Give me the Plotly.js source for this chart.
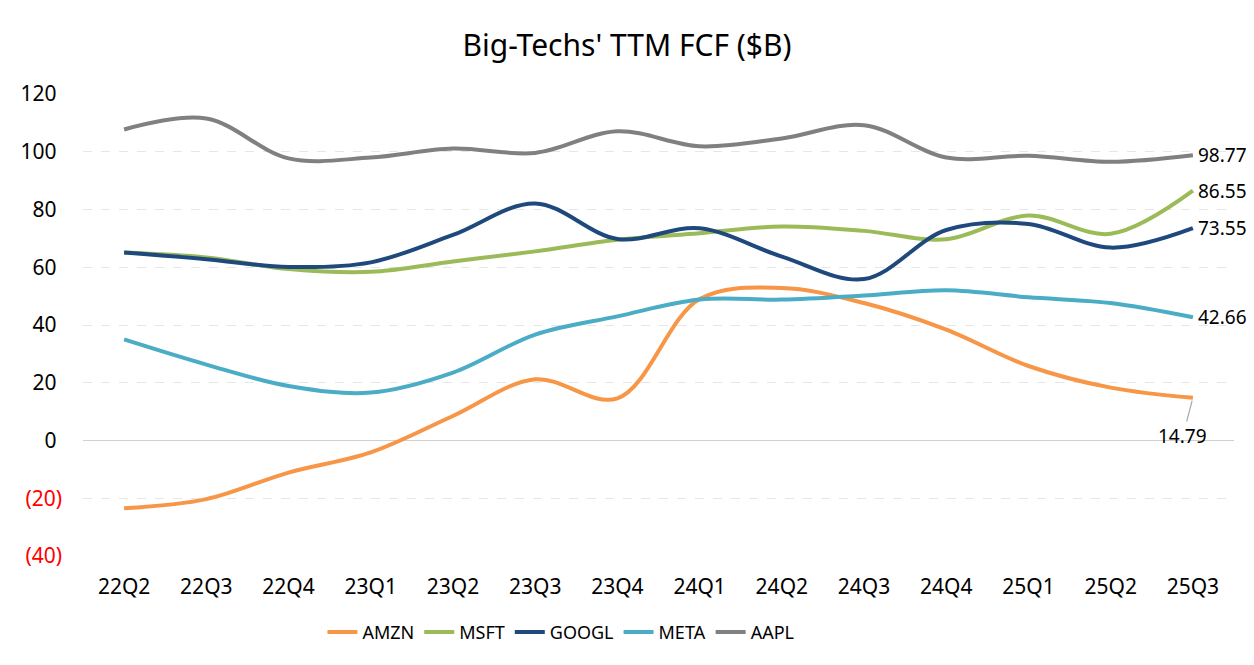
<!DOCTYPE html>
<html>
<head>
<meta charset="utf-8">
<script src="https://cdn.plot.ly/plotly-3.0.1.min.js"></script>
<style>html,body{margin:0;padding:0;background:#fff;}#chart{width:1254px;height:665px;}</style>
</head>
<body>
<div id="chart"></div>
<script>
const quarters = ["22Q2","22Q3","22Q4","23Q1","23Q2","23Q3","23Q4","24Q1","24Q2","24Q3","24Q4","25Q1","25Q2","25Q3"];
const amzn  = [-23.5,-20.3,-11.1,-4.1,8.5,21.2,14.6,49.0,52.8,47.6,38.4,25.8,18.3,14.79];
const msft  = [65.1,63.4,59.4,58.4,62.0,65.5,69.5,71.8,74.1,72.6,69.7,77.9,71.6,86.55];
const googl = [65.1,62.8,60.1,61.7,71.2,82.1,69.8,73.5,63.7,55.9,72.9,75.0,66.8,73.55];
const meta  = [35.0,26.3,18.9,16.6,23.5,36.7,43.0,48.8,48.8,50.2,52.0,49.6,47.6,42.66];
const aapl  = [107.7,111.5,97.7,98.0,101.1,99.6,107.1,101.9,104.6,109.2,98.0,98.6,96.5,98.77];
const tickVals = [-40,-20,0,20,40,60,80,100,120];
const tickText = ['<span style="fill:#FF0000">(40)</span>','<span style="fill:#FF0000">(20)</span>','0 ','20 ','40 ','60 ','80 ','100 ','120 '];

const seriesList = [
  {name:"AMZN", y:amzn, color:"#F79646"},
  {name:"MSFT", y:msft, color:"#9BBB59"},
  {name:"GOOGL", y:googl, color:"#1F497D"},
  {name:"META", y:meta, color:"#4BACC6"},
  {name:"AAPL", y:aapl, color:"#808080"}
];

const traces = seriesList.map(s => ({
  type:"scatter", mode:"lines", name:s.name, x:quarters, y:s.y,
  line:{color:s.color, width:4, shape:"spline", smoothing:1},
  hoverinfo:"skip"
}));

const last = quarters.length - 1;
const fmt = v => v.toFixed(2);
const annotations = [aapl, msft, googl, meta].map(s => ({
  x:quarters[last], y:s[last], xref:"x", yref:"y",
  text:fmt(s[last]), showarrow:false, xanchor:"left", yanchor:"middle", xshift:3,
  font:{size:19, color:"#000"}
}));
annotations.push({
  x:quarters[last], y:amzn[last], xref:"x", yref:"y",
  text:fmt(amzn[last]), showarrow:true, arrowhead:0, arrowwidth:1.2, arrowcolor:"#A6A6A6",
  ax:-10, ay:38, standoff:3, font:{size:19, color:"#000"}
});

const layout = {
  width:1254, height:665,
  paper_bgcolor:"#fff", plot_bgcolor:"#fff",
  font:{family:"Noto Sans, Open Sans, sans-serif", color:"#000"},
  title:{text:"Big-Techs' TTM FCF ($B)", x:0.5, xanchor:"center", y:0.932, yanchor:"middle", font:{size:30, color:"#000"}},
  margin:{l:83, r:20, t:94, b:109},
  xaxis:{type:"category", range:[-0.5,13.5], showgrid:false, zeroline:false, showline:false,
         ticks:"", tickfont:{size:21, color:"#000"}, ticklabelstandoff:16, fixedrange:true},
  yaxis:{range:[-40,120], tickvals:tickVals, ticktext:tickText, showgrid:true, gridcolor:"#E6E6E6",
         griddash:"dash", gridwidth:1, zeroline:true, zerolinecolor:"#D0D0D0", zerolinewidth:1.5,
         showline:false, ticks:"", tickfont:{size:21, color:"#000"}, ticklabelstandoff:20, fixedrange:true},
  legend:{orientation:"h", x:0.208, xanchor:"left", y:-0.165, yanchor:"middle", font:{size:18, color:"#000"},
          itemwidth:30, tracegroupgap:0},
  annotations:annotations,
  showlegend:true
};

Plotly.newPlot("chart", traces, layout, {displayModeBar:false, staticPlot:true});
</script>
</body>
</html>
